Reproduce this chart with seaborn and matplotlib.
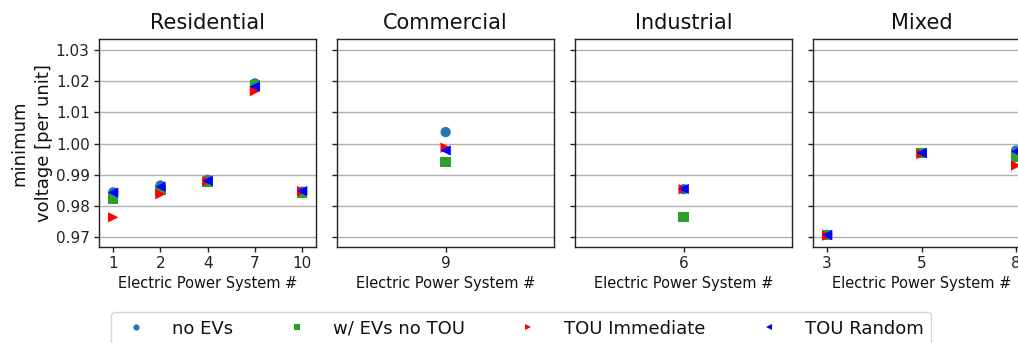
import matplotlib
matplotlib.use("Agg")
import matplotlib.pyplot as plt
import seaborn as sns
import pandas as pd

# Feeder categories and the electric power systems in each
sectors = ["Residential", "Commercial", "Industrial", "Mixed"]
systems = {
    "Residential": ["1", "2", "4", "7", "10"],
    "Commercial": ["9"],
    "Industrial": ["6"],
    "Mixed": ["3", "5", "8"],
}

scenarios = ["no EVs", "w/ EVs no TOU", "TOU Immediate", "TOU Random"]

# Minimum voltage [p.u.] per scenario, listed per sector in system order
no_evs = {
    "Residential": [0.9844, 0.9866, 0.9884, 1.0193, 0.9846],
    "Commercial": [1.0037],
    "Industrial": [0.9854],
    "Mixed": [0.9708, 0.9970, 0.9978],
}
ev_no_tou = {
    "Residential": [0.9823, 0.9852, 0.9877, 1.0188, 0.9841],
    "Commercial": [0.9941],
    "Industrial": [0.9766],
    "Mixed": [0.9708, 0.9969, 0.9958],
}
tou_immediate = {
    "Residential": [0.9764, 0.9838, 0.9880, 1.0168, 0.9848],
    "Commercial": [0.9987],
    "Industrial": [0.9854],
    "Mixed": [0.9705, 0.9967, 0.9930],
}
tou_random = {
    "Residential": [0.9843, 0.9862, 0.9881, 1.0183, 0.9848],
    "Commercial": [0.9978],
    "Industrial": [0.9855],
    "Mixed": [0.9707, 0.9970, 0.9975],
}

series = dict(zip(scenarios, [no_evs, ev_no_tou, tou_immediate, tou_random]))

palette = {
    "no EVs": "#1f77b4",
    "w/ EVs no TOU": "#2ca02c",
    "TOU Immediate": "#ff0000",
    "TOU Random": "#0000ff",
}
markers = {
    "no EVs": "o",
    "w/ EVs no TOU": "s",
    "TOU Immediate": ">",
    "TOU Random": "<",
}

rows = []
for scen in scenarios:
    for sec in sectors:
        for sysno, v in zip(systems[sec], series[scen][sec]):
            rows.append({"sector": sec, "system": sysno, "voltage": v, "scenario": scen})
df = pd.DataFrame(rows)

sns.set_theme(style="ticks", rc={
    "axes.edgecolor": "#222222",
    "axes.linewidth": 1.0,
    "xtick.color": "#222222",
    "ytick.color": "#222222",
    "text.color": "#111111",
    "axes.labelcolor": "#111111",
})
plt.rcParams["font.family"] = ["DejaVu Sans"]

W, H = 1018, 343
fig = plt.figure(figsize=(W / 100, H / 100), dpi=100)

ax_w, ax_gap = 216.7, 21.3
ax_left0, ax_top, ax_bot = 99.3, 39.0, 246.7
frac = 0.064  # horizontal padding as a fraction of the axes width

axes = []
handles = labels = None
for i, sec in enumerate(sectors):
    left = ax_left0 + i * (ax_w + ax_gap)
    ax = fig.add_axes([left / W, 1 - ax_bot / H, ax_w / W, (ax_bot - ax_top) / H],
                      sharey=axes[0] if axes else None)
    sub = df[df["sector"] == sec]
    sns.scatterplot(data=sub, x="system", y="voltage", hue="scenario", style="scenario",
                    hue_order=scenarios, style_order=scenarios,
                    palette=palette, markers=markers, s=55, linewidth=0,
                    ax=ax, legend=(i == 0), zorder=3)
    if i == 0:
        handles, labels = ax.get_legend_handles_labels()
        ax.get_legend().remove()
    n = len(systems[sec])
    if n > 1:
        span = (n - 1) / (1 - 2 * frac)
        ax.set_xlim(-frac * span, (n - 1) + frac * span)
    else:
        ax.set_xlim(-1, 1)
    ax.set_title(sec, fontsize=15, pad=7)
    ax.set_xlabel("Electric Power System #", fontsize=10.5, labelpad=3)
    ax.yaxis.grid(True, color="#b0b0b0", linewidth=1.0, zorder=0)
    ax.set_axisbelow(True)
    ax.tick_params(axis="both", labelsize=11, length=3.5, width=1.0)
    if i == 0:
        ax.set_ylabel("minimum\nvoltage [per unit]", fontsize=13, labelpad=2, linespacing=1.45)
        ax.set_yticks([0.97, 0.98, 0.99, 1.00, 1.01, 1.02, 1.03])
        ax.set_yticklabels(["0.97", "0.98", "0.99", "1.00", "1.01", "1.02", "1.03"])
    else:
        ax.set_ylabel("")
        ax.tick_params(axis="y", labelleft=False)
    axes.append(ax)

axes[0].set_ylim(0.96699, 1.03352)

fig.legend(handles, labels, loc="upper left", bbox_to_anchor=(111 / W, 1 - 312.3 / H),
           bbox_transform=fig.transFigure, ncol=4, fontsize=13, markerscale=0.6,
           borderaxespad=0, handletextpad=1.0, columnspacing=2.5, borderpad=0.4,
           frameon=True, fancybox=True, edgecolor="#cccccc")

fig.savefig("out.png", dpi=100)
